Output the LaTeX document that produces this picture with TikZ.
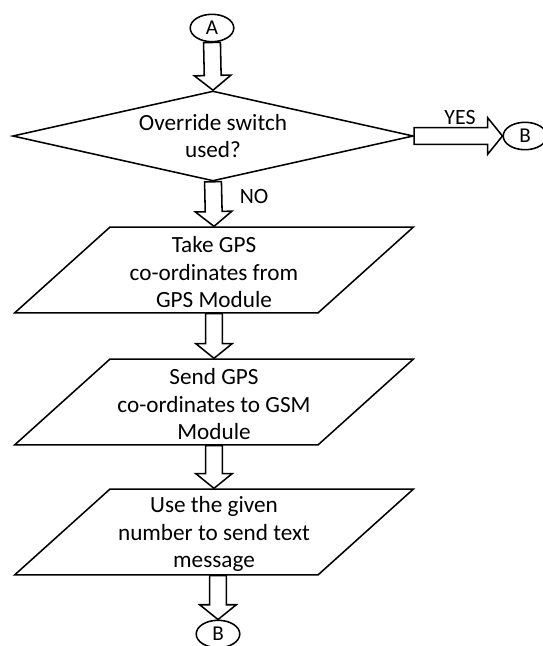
\documentclass[tikz,border=0pt]{standalone}
\usepackage{fontspec}
\setmainfont{Carlito}
\usepackage{tikz}
\usetikzlibrary{calc,positioning,shapes.geometric}

\begin{document}
\begin{tikzpicture}[
  x=0.025cm, y=-0.025cm,
  line width=1.1pt,
  every node/.style={font=\fontsize{16.5}{19.5}\selectfont},
  conn/.style={ellipse, draw, inner sep=0pt, minimum width=31pt, minimum height=19.5pt, font=\fontsize{15}{17}\selectfont},
  decision/.style={diamond, draw, aspect=4.5, inner sep=0pt, minimum width=285pt, minimum height=64pt, align=center},
  io/.style={trapezium, draw, trapezium left angle=42, trapezium right angle=138, trapezium stretches body=true,
    inner sep=0pt, text height=61pt, text depth=0pt, minimum width=283.5pt},
  txt/.style={align=center, yshift=-1.5pt},
  lbl/.style={font=\fontsize{15.5}{17}\selectfont},
  blockarrow/.style={fill=white, to path={let \p1=($(\tikztotarget)!\headl!(\tikztostart)$) in
    ($(\tikztostart)!\shaftw!90:(\tikztotarget)$)
    -- ($(\p1)!\shaftw!90:(\tikztotarget)$)
    -- ($(\p1)!\headw!90:(\tikztotarget)$)
    -- (\tikztotarget)
    -- ($(\p1)!\headw!-90:(\tikztotarget)$)
    -- ($(\p1)!\shaftw!-90:(\tikztotarget)$)
    -- ($(\tikztostart)!\shaftw!-90:(\tikztotarget)$) -- cycle}}
]
  \def\shaftw{6pt}\def\headw{13pt}\def\headl{10.5pt}
  \useasboundingbox (0,0) rectangle (543,646);

  % connectors and boxes
  \node[conn] (conA) at (212,28) {A};
  \node[decision] (dec) at (213,136) {Override switch\\used?};
  \node[conn] (conB1) at (525,136) {B};
  \node[io, label={[txt]center:Take GPS\\co-ordinates from\\GPS Module}] (gps) at (214,270) {};
  \node[io, label={[txt]center:Send GPS\\co-ordinates to GSM\\Module}] (gsm) at (214,402) {};
  \node[io, label={[txt]center:Use the given\\number to send text\\message}] (sms) at (214,532) {};
  \node[conn] (conB2) at (218,634) {B};

  % block arrows
  \draw[blockarrow] (conA.south) to (dec.north);
  \draw[blockarrow] (dec.east) to (conB1.west);
  \draw[blockarrow] (dec.south) to (gps.north);
  \draw[blockarrow] (gps.south) to (gsm.north);
  \draw[blockarrow] (gsm.south) to (sms.north);
  \draw[blockarrow] (sms.south -| conB2.north) to (conB2.north);

  \node[lbl] (yes) at (460,117) {YES};
  \node[lbl] (no) at (254,196) {NO};
\end{tikzpicture}
\end{document}
